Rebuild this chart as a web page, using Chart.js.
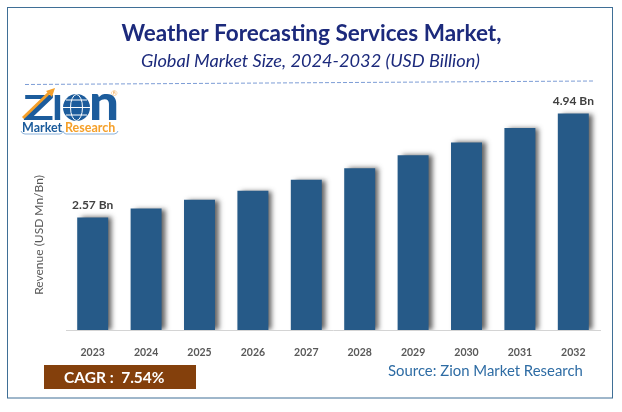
<!DOCTYPE html>
<html>
<head>
<meta charset="utf-8">
<script src="https://cdn.jsdelivr.net/npm/chart.js@4"></script>
<style>html,body{margin:0;padding:0;background:#fff}canvas{display:block}</style>
</head>
<body>
<canvas id="c" width="622" height="412"></canvas>
<script>
const categories = ['2023','2024','2025','2026','2027','2028','2029','2030','2031','2032'];
const revenue = [2.57,2.77,2.97,3.18,3.43,3.69,3.99,4.28,4.61,4.94];
const valueLabels = ['2.57 Bn','','','','','','','','','4.94 Bn'];
const titleText = 'Weather Forecasting Services Market,';
const subtitleText = 'Global Market Size, 2024-2032 (USD Billion)';
const axisTitle = 'Revenue (USD Mn/Bn)';
const cagrText = 'CAGR :  7.54%';
const sourceText = 'Source: Zion Market Research';
const FONT = 'Lato, "Open Sans", sans-serif';

function fitText(c, str, x0, x1, y0, y1) {
  c.save();
  c.textAlign = 'left'; c.textBaseline = 'alphabetic';
  const m = c.measureText(str);
  const w = m.actualBoundingBoxRight + m.actualBoundingBoxLeft;
  const h = m.actualBoundingBoxAscent + m.actualBoundingBoxDescent;
  c.translate(x0, y0);
  c.scale((x1 - x0) / w, (y1 - y0) / h);
  c.fillText(str, m.actualBoundingBoxLeft, m.actualBoundingBoxAscent);
  c.restore();
}

const decor = {
  id: 'decor',
  beforeDraw(chart) {
    const c = chart.ctx;
    c.save();
    c.fillStyle = '#fff';
    c.fillRect(0, 0, 622, 412);
    c.strokeStyle = '#3f6f96';
    c.lineWidth = 1;
    c.strokeRect(7.5, 7.5, 605, 390.5);
    c.strokeStyle = '#7d9dd6';
    c.setLineDash([4, 2]);
    c.beginPath(); c.moveTo(25, 84.5); c.lineTo(594, 81); c.stroke();
    c.setLineDash([]);
    c.fillStyle = '#84400c';
    c.fillRect(44, 365, 152, 24);
    c.restore();
  },
  afterDraw(chart) {
    const c = chart.ctx;
    c.save();
    // titles
    c.fillStyle = '#1c2a7c';
    c.textAlign = 'center'; c.textBaseline = 'alphabetic';
    c.font = 'bold 22.5px ' + FONT;
    c.fillText(titleText, 311.5, 41);
    c.font = 'italic 18.2px ' + FONT;
    c.fillText(subtitleText, 310.5, 67);
    // axis title
    c.save();
    c.translate(39, 235);
    c.rotate(-Math.PI / 2);
    c.font = '12px ' + FONT;
    c.fillStyle = '#595959';
    c.textAlign = 'center'; c.textBaseline = 'middle';
    c.fillText(axisTitle, 0, 0);
    c.restore();
    // CAGR
    c.font = 'bold 15.5px ' + FONT;
    c.fillStyle = '#fff';
    c.textAlign = 'left'; c.textBaseline = 'middle';
    c.fillText(cagrText, 64, 378);
    // source
    c.font = '14.9px ' + FONT;
    c.fillStyle = '#2e6ca4';
    c.fillText(sourceText, 388, 371);
    // logo
    const blue = '#1c5c9c', orange = '#f5a02a';
    c.fillStyle = blue;
    c.font = '900 36px ' + FONT;
    fitText(c, 'Z', 23, 53, 95, 120);
    fitText(c, 'I', 54, 61, 95, 120);
    fitText(c, 'n', 92, 117, 94, 120);
    c.strokeStyle = orange; c.lineWidth = 3;
    c.beginPath(); c.moveTo(23, 118); c.lineTo(50, 92); c.stroke();
    c.fillStyle = orange;
    c.beginPath(); c.moveTo(55, 88); c.lineTo(46, 91); c.lineTo(52, 97); c.fill();
    c.fillStyle = blue;
    c.beginPath(); c.arc(76.5, 107.5, 13.5, 0, Math.PI * 2); c.fill();
    c.strokeStyle = '#fff'; c.lineWidth = 1;
    c.beginPath(); c.ellipse(76.5, 107.5, 6, 13, 0, 0, Math.PI * 2); c.stroke();
    c.beginPath(); c.moveTo(63, 107.5); c.lineTo(90, 107.5); c.moveTo(66, 100); c.lineTo(87, 100); c.moveTo(66, 115); c.lineTo(87, 115); c.stroke();
    c.textAlign = 'left'; c.textBaseline = 'alphabetic';
    c.font = 'bold 12.5px ' + FONT;
    c.fillStyle = blue;
    c.fillText('Market', 22, 132);
    c.fillStyle = orange;
    c.fillText('Research', 65, 132);
    c.strokeStyle = '#6f9fd0'; c.lineWidth = 0.8;
    c.beginPath(); c.moveTo(21, 131); c.quadraticCurveTo(22, 134, 25, 134); c.lineTo(60, 134); c.quadraticCurveTo(62, 134, 63, 131); c.quadraticCurveTo(64, 134, 66, 134); c.lineTo(114, 134); c.quadraticCurveTo(117, 134, 118, 131); c.stroke();
    c.font = '8px ' + FONT;
    c.fillStyle = '#f5b060';
    c.fillText('®', 111, 96);
    c.restore();
  },
  beforeDatasetDraw(chart) {
    const c = chart.ctx;
    c.save();
    c.shadowColor = 'rgba(60,60,60,0.8)';
    c.shadowBlur = 5;
    c.shadowOffsetX = 4;
    c.shadowOffsetY = 0;
  },
  afterDatasetDraw(chart) {
    chart.ctx.restore();
    const c = chart.ctx;
    c.save();
    c.font = 'bold 12px ' + FONT;
    c.fillStyle = '#404040';
    c.textAlign = 'center'; c.textBaseline = 'middle';
    chart.getDatasetMeta(0).data.forEach((bar, i) => {
      if (valueLabels[i]) c.fillText(valueLabels[i], bar.x, bar.y - 12);
    });
    c.restore();
  }
};

new Chart(document.getElementById('c'), {
  type: 'bar',
  plugins: [decor],
  data: {
    labels: categories,
    datasets: [{
      data: revenue,
      backgroundColor: '#265a88',
      categoryPercentage: 1,
      barPercentage: 0.58
    }]
  },
  options: {
    responsive: false,
    animation: false,
    devicePixelRatio: 1,
    layout: { padding: { left: 66, right: 22, top: 89, bottom: 42 } },
    plugins: {
      legend: { display: false },
      tooltip: { enabled: false },
      title: { display: false },
      subtitle: { display: false }
    },
    scales: {
      x: {
        grid: { display: false },
        border: { color: '#d4d4d4', width: 1 },
        ticks: { color: '#595959', font: { family: FONT, size: 10.5, weight: 'bold' }, padding: 8, maxRotation: 0 },
        afterFit(s) { s.height = 40; }
      },
      y: { display: false, min: 0, max: 5.5 }
    }
  }
});
</script>
</body>
</html>
